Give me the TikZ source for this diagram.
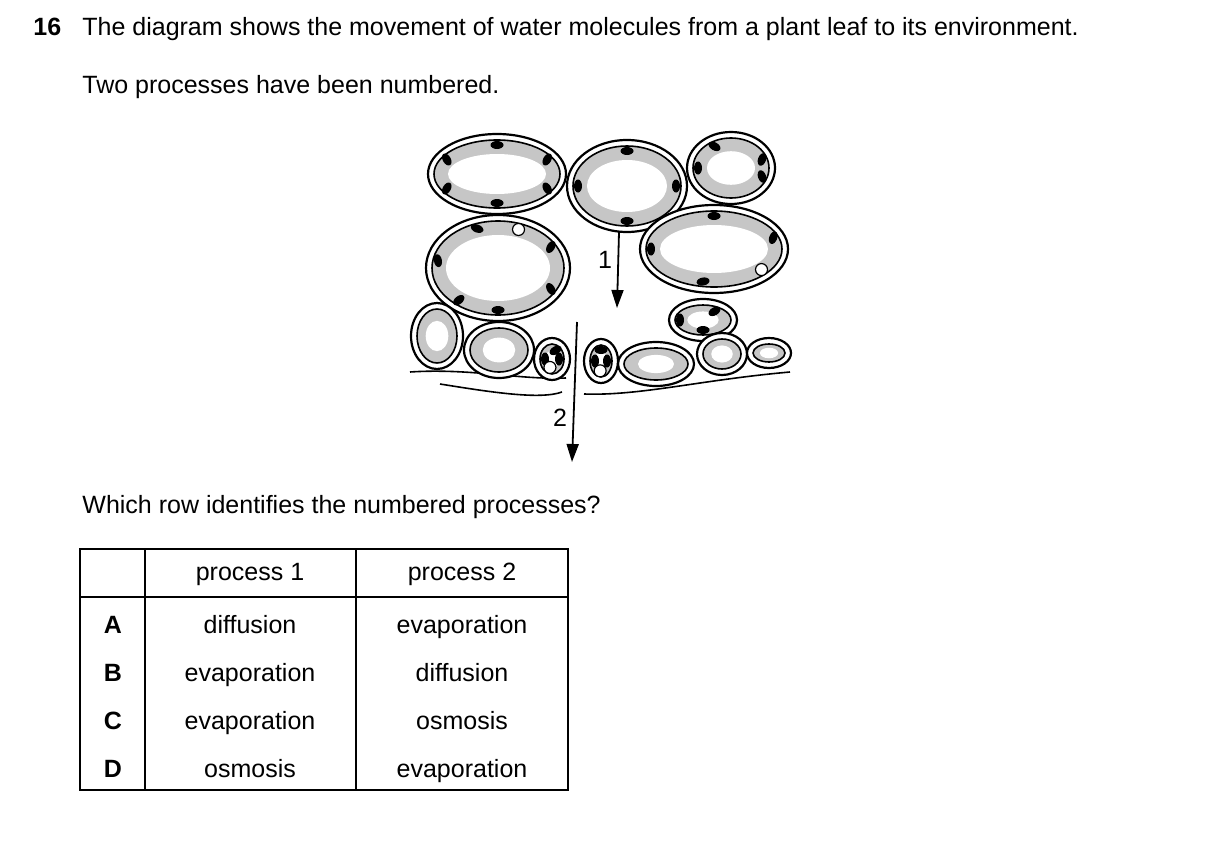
\documentclass[tikz,border=0pt]{standalone}
\usepackage{fontspec}
\setmainfont{Liberation Sans}
\usetikzlibrary{arrows.meta}
\tikzset{
  txt/.style={font=\fontsize{12.5}{14}\selectfont, inner sep=0pt, text height=9pt, text depth=2.5pt},
  wall/.style={line width=1.1pt, fill=white},
  chl/.style={fill=black},
  proc/.style={line width=0.9pt, -{Triangle[length=9pt,width=6pt]}}
}
% cell at (x,y) with radii rx, ry, chloroplast angles, vacuole-dot angles
\newcommand\cellbody[6]{%
  \begin{scope}[shift={(#1,#2)}]
    \draw[wall] (0,0) ellipse [x radius=#3, y radius=#4];
    \draw[line width=0.8pt, fill=gray!45] (0,0) ellipse [x radius=#3-6, y radius=#4-6];
    \fill[white] (0,0) ellipse [x radius={max(#3-20,0.55*#3-3)}, y radius={max(#4-20,0.55*#4-3)}];
    \foreach \a in {#5}
      \fill[chl, rotate around={\a+90:({(#3-11)*cos(\a)},{(#4-11)*sin(\a)})}]
        ({(#3-11)*cos(\a)},{(#4-11)*sin(\a)}) ellipse [x radius=6.5, y radius=4];
    \foreach \a in {#6}
      \draw[fill=white, line width=0.6pt] ({(#3-12)*cos(\a)},{(#4-12)*sin(\a)}) circle (6);
  \end{scope}}
\begin{document}
\begin{tikzpicture}[x=0.5pt, y=-0.5pt]
\useasboundingbox (0,0) rectangle (1209,840);

% texts
\node[txt, anchor=west, font=\fontsize{12.5}{14}\bfseries] (num) at (33,29) {16};
\node[txt, anchor=west] (q1) at (82,29) {The diagram shows the movement of water molecules from a plant leaf to its environment.};
\node[txt, anchor=west] (q2) at (82,87) {Two processes have been numbered.};
\node[txt, anchor=west] (q3) at (82,507) {Which row identifies the numbered processes?};

% cuticle
\draw[line width=0.8pt] (410,372) .. controls (470,368) and (520,380) .. (566,378);
\draw[line width=0.8pt] (440,384) .. controls (490,392) and (540,400) .. (562,392);
\draw[line width=0.8pt] (584,394) .. controls (640,396) and (700,380) .. (790,372);

% spongy cells
\cellbody{497}{174}{69}{40}{90,150,210,270,-30,30}{}
\cellbody{627}{186}{60}{46}{-90,90,180,0}{}
\cellbody{731}{168}{44}{36}{-120,-20,20,180}{}
\cellbody{498}{268}{72}{53}{-110,-30,190,90,30,130}{-70}
\cellbody{714}{249}{74}{44}{-90,-20,180,100}{40}
\cellbody{703}{320}{34}{21}{-60,180,90}{}

% epidermis
\cellbody{437}{336}{26}{33}{}{}
\cellbody{499}{350}{35}{28}{}{}
\cellbody{552}{359}{18}{21}{-60,0,180}{110}
\cellbody{601}{361}{17}{22}{-90,180,0}{100}
\cellbody{656}{364}{38}{22}{}{}
\cellbody{722}{354}{25}{21}{}{}
\cellbody{769}{353}{22}{15}{}{}

% processes
\coordinate (p1a) at (619,232);
\coordinate (p1b) at (617,308);
\coordinate (p2a) at (577,322);
\coordinate (p2b) at (572,462);
\draw[proc] (p1a) -- (p1b);
\draw[proc] (p2a) -- (p2b);
\node[txt] (l1) at (605,262) {1};
\node[txt] (l2) at (560,420) {2};

% table
\draw[line width=0.8pt] (80,549) rectangle (568,790);
\draw[line width=0.8pt] (80,597) -- (568,597);
\draw[line width=0.8pt] (145,549) -- (145,790);
\draw[line width=0.8pt] (356,549) -- (356,790);
\node[txt] (h1) at (250,574) {process 1};
\node[txt] (h2) at (462,574) {process 2};
\foreach \r/\k/\p/\q [count=\i] in {A/a/diffusion/evaporation, B/b/evaporation/diffusion, C/c/evaporation/osmosis, D/d/osmosis/evaporation}{
  \node[txt, font=\fontsize{12.5}{14}\bfseries] (row\k) at (113,579+48*\i) {\r};
  \node[txt] (one\k) at (250,579+48*\i) {\p};
  \node[txt] (two\k) at (462,579+48*\i) {\q};
}
\end{tikzpicture}
\end{document}
